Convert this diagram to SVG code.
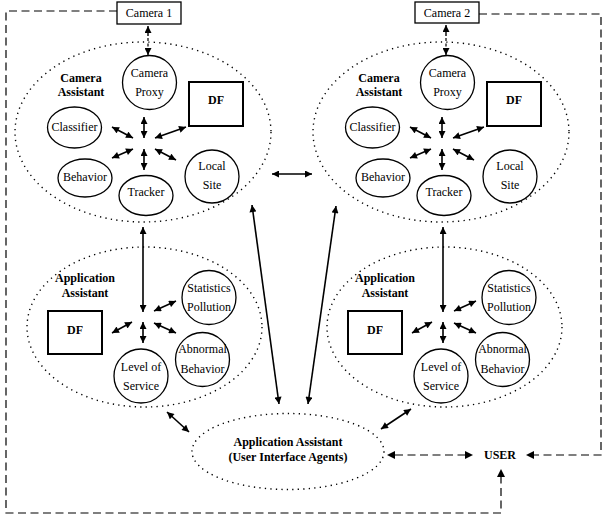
<svg xmlns="http://www.w3.org/2000/svg" width="608" height="514" viewBox="0 0 608 514">
<style>
text{font-family:"Liberation Serif","Times New Roman",serif;font-size:12px;fill:#000;text-anchor:middle}
.b{font-weight:bold}
.node{fill:#fff;stroke:#000;stroke-width:1.3}
.df{fill:#fff;stroke:#000;stroke-width:2}
.grp{fill:none;stroke:#000;stroke-width:1.4;stroke-dasharray:1.3 4.2}
.a{fill:none;stroke:#000;stroke-width:1.6;marker-start:url(#ah);marker-end:url(#ah)}
.d{fill:none;stroke:#000;stroke-width:1.2;stroke-dasharray:8 4.5}
.box{fill:#fff;stroke:#000;stroke-width:1.3}
</style>
<defs>
<marker id="ah" viewBox="0 0 10 10" refX="10" refY="5" markerWidth="8" markerHeight="7" markerUnits="userSpaceOnUse" orient="auto-start-reverse"><path d="M0,0 L10,5 L0,10 z" fill="#000"/></marker>
</defs>

<!-- group ellipses -->
<g id="camera-assistant-1">
<ellipse class="grp" cx="143" cy="132" rx="128" ry="90"/>
<text class="b" x="81" y="82">Camera</text>
<text class="b" x="81" y="96">Assistant</text>
</g>
<g id="camera-assistant-2">
<ellipse class="grp" cx="441" cy="132" rx="128" ry="90"/>
<text class="b" x="379" y="82">Camera</text>
<text class="b" x="379" y="96">Assistant</text>
</g>
<g id="application-assistant-1">
<ellipse class="grp" cx="144.5" cy="327" rx="117.5" ry="80"/>
<text class="b" x="85" y="282">Application</text>
<text class="b" x="85" y="297">Assistant</text>
</g>
<g id="application-assistant-2">
<ellipse class="grp" cx="444.5" cy="327" rx="117.5" ry="80"/>
<text class="b" x="385" y="282">Application</text>
<text class="b" x="385" y="297">Assistant</text>
</g>
<g id="ui-agents">
<ellipse class="grp" cx="288" cy="451.5" rx="96" ry="38"/>
<text class="b" x="288" y="446">Application Assistant</text>
<text class="b" x="288" y="461">(User Interface Agents)</text>
</g>

<!-- connectors -->
<g id="connectors">
<path class="d" d="M117,11 H6 V513 H501 V476"/>
<path d="M501,469 l-4,8 h8 z" fill="#000"/>
<path class="d" d="M479,14 H601 V455 H534"/>
<path d="M526,455 l8,-4 v8 z" fill="#000"/>
<line class="d" x1="395" y1="455" x2="465" y2="455"/>
<path d="M387,455 l8,-4 v8 z" fill="#000"/>
<path d="M473,455 l-8,-4 v8 z" fill="#000"/>
<line x1="148" y1="26" x2="148" y2="36" stroke="#000" stroke-width="1.4" marker-start="url(#ah)"/>
<line x1="148" y1="38" x2="148" y2="48" stroke="#000" stroke-width="1.2" stroke-dasharray="3 2.5"/>
<line x1="148" y1="48" x2="148" y2="55" stroke="#000" stroke-width="1.4" marker-end="url(#ah)"/>
<line x1="446" y1="25" x2="446" y2="36" stroke="#000" stroke-width="1.4" marker-start="url(#ah)"/>
<line x1="446" y1="38" x2="446" y2="48" stroke="#000" stroke-width="1.2" stroke-dasharray="3 2.5"/>
<line x1="446" y1="48" x2="446" y2="55" stroke="#000" stroke-width="1.4" marker-end="url(#ah)"/>
<line class="a" x1="144" y1="117" x2="144" y2="138"/>
<line class="a" x1="144" y1="149" x2="144" y2="170"/>
<line class="a" x1="112" y1="127" x2="133" y2="138"/>
<line class="a" x1="155" y1="138" x2="186" y2="127"/>
<line class="a" x1="112" y1="158" x2="133" y2="149"/>
<line class="a" x1="155" y1="149" x2="176" y2="160"/>
<line class="a" x1="442" y1="117" x2="442" y2="138"/>
<line class="a" x1="442" y1="149" x2="442" y2="170"/>
<line class="a" x1="410" y1="127" x2="431" y2="138"/>
<line class="a" x1="453" y1="138" x2="484" y2="127"/>
<line class="a" x1="410" y1="158" x2="431" y2="149"/>
<line class="a" x1="453" y1="149" x2="474" y2="160"/>
<line class="a" x1="272" y1="174" x2="312" y2="174"/>
<line class="a" x1="143" y1="227" x2="143" y2="312"/>
<line class="a" x1="443" y1="227" x2="443" y2="312"/>
<line class="a" x1="252" y1="205" x2="279" y2="404"/>
<line class="a" x1="336" y1="206" x2="308" y2="404"/>
<line class="a" x1="143" y1="322" x2="143" y2="343"/>
<line class="a" x1="112" y1="333" x2="132" y2="322"/>
<line class="a" x1="154" y1="311" x2="176" y2="301"/>
<line class="a" x1="154" y1="323" x2="176" y2="333"/>
<line class="a" x1="443" y1="322" x2="443" y2="343"/>
<line class="a" x1="412" y1="333" x2="432" y2="322"/>
<line class="a" x1="454" y1="311" x2="476" y2="301"/>
<line class="a" x1="454" y1="323" x2="476" y2="333"/>
<line class="a" x1="167" y1="412" x2="189" y2="432"/>
<line class="a" x1="411" y1="409" x2="381" y2="429"/>
</g>

<g id="camera1"><rect class="box" x="117" y="2" width="64" height="22"/><text x="149" y="17">Camera 1</text></g>
<g id="camera2"><rect class="box" x="415" y="2" width="64" height="21"/><text x="447" y="17">Camera 2</text></g>

<g id="proxy1"><circle class="node" cx="149.5" cy="82.5" r="27"/><text x="149.5" y="77">Camera</text><text x="149.5" y="96">Proxy</text></g>
<g id="df1"><rect class="df" x="189" y="82" width="54" height="44"/><text class="b" x="216" y="104">DF</text></g>
<g id="classifier1"><ellipse class="node" cx="74.5" cy="127.5" rx="27" ry="20.5"/><text x="74.5" y="131">Classifier</text></g>
<g id="behavior1"><ellipse class="node" cx="85" cy="178" rx="27" ry="19"/><text x="85" y="181">Behavior</text></g>
<g id="tracker1"><ellipse class="node" cx="146" cy="195.5" rx="27" ry="20"/><text x="146" y="196">Tracker</text></g>
<g id="localsite1"><ellipse class="node" cx="212" cy="176.5" rx="27" ry="26.5"/><text x="212" y="170">Local</text><text x="212" y="189">Site</text></g>

<g id="proxy2"><circle class="node" cx="447.5" cy="82.5" r="27"/><text x="447.5" y="77">Camera</text><text x="447.5" y="96">Proxy</text></g>
<g id="df2"><rect class="df" x="487" y="82" width="54" height="44"/><text class="b" x="514" y="104">DF</text></g>
<g id="classifier2"><ellipse class="node" cx="372.5" cy="127.5" rx="27" ry="20.5"/><text x="372.5" y="131">Classifier</text></g>
<g id="behavior2"><ellipse class="node" cx="383" cy="178" rx="27" ry="19"/><text x="383" y="181">Behavior</text></g>
<g id="tracker2"><ellipse class="node" cx="444" cy="195.5" rx="27" ry="20"/><text x="444" y="196">Tracker</text></g>
<g id="localsite2"><ellipse class="node" cx="510" cy="176.5" rx="27" ry="26.5"/><text x="510" y="170">Local</text><text x="510" y="189">Site</text></g>

<g id="appdf1"><rect class="df" x="48" y="311" width="54" height="43"/><text class="b" x="75" y="334">DF</text></g>
<g id="stats1"><circle class="node" cx="209" cy="297.5" r="27"/><text x="209" y="292">Statistics</text><text x="209" y="311">Pollution</text></g>
<g id="abnormal1"><circle class="node" cx="202.5" cy="359.5" r="27"/><text x="202.5" y="353">Abnormal</text><text x="202.5" y="373">Behavior</text></g>
<g id="los1"><circle class="node" cx="141" cy="376" r="27"/><text x="141" y="371">Level of</text><text x="141" y="390">Service</text></g>

<g id="appdf2"><rect class="df" x="348" y="311" width="54" height="43"/><text class="b" x="375" y="334">DF</text></g>
<g id="stats2"><circle class="node" cx="509" cy="297.5" r="27"/><text x="509" y="292">Statistics</text><text x="509" y="311">Pollution</text></g>
<g id="abnormal2"><circle class="node" cx="502.5" cy="359.5" r="27"/><text x="502.5" y="353">Abnormal</text><text x="502.5" y="373">Behavior</text></g>
<g id="los2"><circle class="node" cx="441" cy="376" r="27"/><text x="441" y="371">Level of</text><text x="441" y="390">Service</text></g>

<g id="user"><text class="b" x="500" y="459">USER</text></g>
</svg>
